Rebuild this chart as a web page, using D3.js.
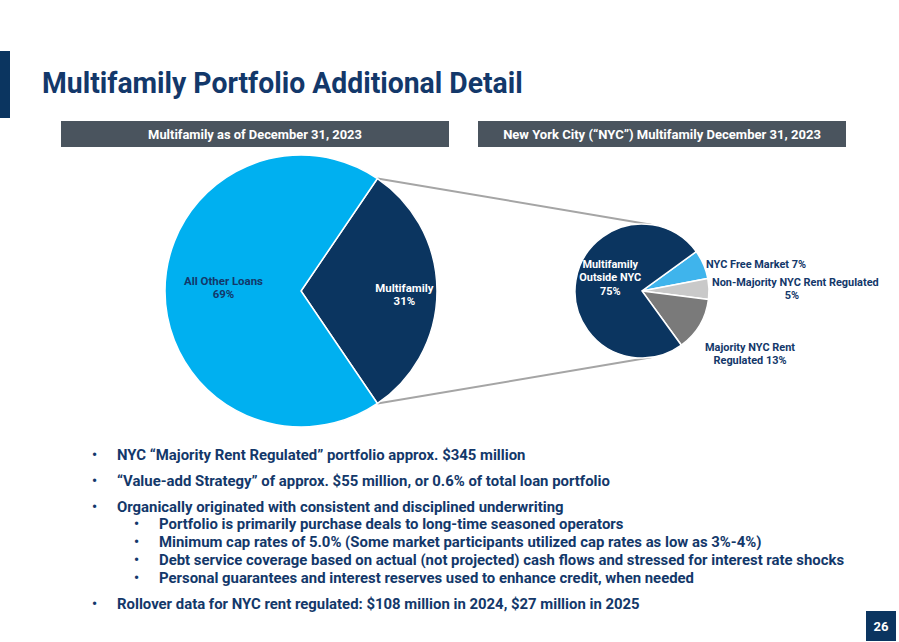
<!DOCTYPE html>
<html>
<head>
<meta charset="utf-8">
<script src="https://cdn.jsdelivr.net/npm/d3@7"></script>
<style>
body { margin: 0; background: #fff; }
text { font-family: Roboto, "Open Sans", sans-serif; font-weight: bold; }
</style>
</head>
<body>
<div id="visual"></div>
<script>
// data
var portfolioLabels = ['Multifamily', 'All Other Loans'];
var portfolioValues = [31, 69];

var nycLabels = ['NYC Free Market', 'Non-Majority NYC Rent Regulated', 'Majority NYC Rent Regulated', 'Multifamily Outside NYC'];
var nycValues = [7, 5, 13, 75];

var headers = ['Multifamily as of December 31, 2023', 'New York City (\u201cNYC\u201d) Multifamily December 31, 2023'];

var bulletText = [
    'NYC \u201cMajority Rent Regulated\u201d portfolio approx. $345 million',
    '\u201cValue-add Strategy\u201d of approx. $55 million, or 0.6% of total loan portfolio',
    'Organically originated with consistent and disciplined underwriting',
    'Portfolio is primarily purchase deals to long-time seasoned operators',
    'Minimum cap rates of 5.0% (Some market participants utilized cap rates as low as 3%-4%)',
    'Debt service coverage based on actual (not projected) cash flows and stressed for interest rate shocks',
    'Personal guarantees and interest reserves used to enhance credit, when needed',
    'Rollover data for NYC rent regulated: $108 million in 2024, $27 million in 2025'
];
var bulletLevel = [0, 0, 0, 1, 1, 1, 1, 0];

var navy = '#0b3560';
var textNavy = '#13386a';

var width = 899, height = 642;

var svg = d3.select('#visual')
    .append('svg')
    .attr('width', width)
    .attr('height', height);

// left accent bar + title
svg.append('rect')
    .attr('x', 0).attr('y', 51)
    .attr('width', 10).attr('height', 67)
    .attr('fill', navy);

var title = svg.append('text')
    .attr('font-size', '29px')
    .attr('fill', textNavy)
    .text('Multifamily Portfolio Additional Detail');
var tScale = 481 / title.node().getComputedTextLength();
title.attr('transform', 'translate(42,93) scale(' + tScale + ',1)');

// header bars
var headerBoxes = [{ x: 61, w: 388 }, { x: 478, w: 368 }];
var headerWidths = [214, 318];
headerBoxes.forEach(function (b, i) {
    svg.append('rect')
        .attr('x', b.x).attr('y', 121)
        .attr('width', b.w).attr('height', 26)
        .attr('fill', '#4a545e');
    var t = svg.append('text')
        .attr('font-size', '13px')
        .attr('fill', '#fff')
        .attr('text-anchor', 'middle')
        .text(headers[i]);
    var s = headerWidths[i] / t.node().getComputedTextLength();
    t.attr('transform', 'translate(' + (b.x + b.w / 2) + ',139) scale(' + s + ',1)');
});

// bullets first so we know the condensed ratio
var bulletY = [460, 486, 512, 529, 547, 565, 583, 609];
var lines = svg.append('g').attr('class', 'bullets');
var probe = lines.append('text').attr('font-size', '15px').text(bulletText[5]);
var sx = 686 / probe.node().getComputedTextLength();
probe.remove();

bulletText.forEach(function (txt, i) {
    var x0 = bulletLevel[i] ? 134 : 92;
    lines.append('text')
        .attr('x', x0).attr('y', bulletY[i])
        .attr('font-size', '14px')
        .attr('fill', textNavy)
        .text('\u2022');
    lines.append('text')
        .attr('font-size', '15px')
        .attr('fill', textNavy)
        .attr('transform', 'translate(' + (x0 + 25) + ',' + bulletY[i] + ') scale(' + sx + ',1)')
        .text(txt);
});

function deg(a) { return a * Math.PI / 180; }
function onCircle(cx, cy, r, a) { return [cx + r * Math.sin(a), cy - r * Math.cos(a)]; }

function label(x, y, rows, colour, anchor, size) {
    var g = svg.append('g').attr('transform', 'translate(' + x + ',' + y + ') scale(' + sx + ',1)');
    rows.forEach(function (r, i) {
        g.append('text')
            .attr('y', i * 13.5)
            .attr('font-size', (size || 11.5) + 'px')
            .attr('fill', colour)
            .attr('text-anchor', anchor || 'middle')
            .text(r);
    });
}

// big pie
var big = { cx: 301, cy: 291, r: 136 };
var bigStart = Math.PI / 2 - Math.PI * portfolioValues[0] / 100;
var bigPie = d3.pie().sort(null).startAngle(bigStart).endAngle(bigStart + 2 * Math.PI)(portfolioValues);
var bigArc = d3.arc().innerRadius(0).outerRadius(big.r);
var bigColours = d3.scaleOrdinal().domain(portfolioLabels).range([navy, '#00b0f0']);

// small pie
var small = { cx: 642, cy: 291, r: 67 };
var smallStart = deg(54);
var smallPie = d3.pie().sort(null).startAngle(smallStart).endAngle(smallStart + 2 * Math.PI)(nycValues);
var smallArc = d3.arc().innerRadius(0).outerRadius(small.r);
var smallColours = d3.scaleOrdinal().domain(nycLabels).range(['#3fb4ec', '#c9c9c9', '#7a7a7a', navy]);

// connector lines
var mf = bigPie[0];
var conn = [
    [onCircle(big.cx, big.cy, big.r, mf.startAngle), onCircle(small.cx, small.cy, small.r, deg(8))],
    [onCircle(big.cx, big.cy, big.r, mf.endAngle), onCircle(small.cx, small.cy, small.r, deg(172))]
];
svg.selectAll('.conn').data(conn).enter().append('line')
    .attr('class', 'conn')
    .attr('x1', function (d) { return d[0][0]; })
    .attr('y1', function (d) { return d[0][1]; })
    .attr('x2', function (d) { return d[1][0]; })
    .attr('y2', function (d) { return d[1][1]; })
    .attr('stroke', '#a5a5a5')
    .attr('stroke-width', 2);

svg.append('g')
    .attr('transform', 'translate(' + big.cx + ',' + big.cy + ')')
    .selectAll('path').data(bigPie).enter().append('path')
    .attr('d', bigArc)
    .attr('fill', function (d, i) { return bigColours(portfolioLabels[i]); })
    .attr('stroke', '#fff')
    .attr('stroke-width', 1.5);

svg.append('g')
    .attr('transform', 'translate(' + small.cx + ',' + small.cy + ')')
    .selectAll('path').data(smallPie).enter().append('path')
    .attr('d', smallArc)
    .attr('fill', function (d, i) { return smallColours(nycLabels[i]); })
    .attr('stroke', '#fff')
    .attr('stroke-width', 1.5);

// labels inside big pie
var mfLabelArc = d3.arc().innerRadius(big.r * 0.76).outerRadius(big.r * 0.76);
var otherLabelArc = d3.arc().innerRadius(big.r * 0.57).outerRadius(big.r * 0.57);
var c0 = mfLabelArc.centroid(bigPie[0]);
var c1 = otherLabelArc.centroid(bigPie[1]);
label(big.cx + c0[0], big.cy + c0[1] + 1, [portfolioLabels[0], portfolioValues[0] + '%'], '#fff');
label(big.cx + c1[0], big.cy + c1[1] - 6, [portfolioLabels[1], portfolioValues[1] + '%'], textNavy);

// labels for small pie
var smallLabelArc = d3.arc().innerRadius(small.r * 0.48).outerRadius(small.r * 0.48);
var c3 = smallLabelArc.centroid(smallPie[3]);
label(small.cx + c3[0], small.cy + c3[1] - 18, ['Multifamily', 'Outside NYC', nycValues[3] + '%'], '#fff', 'middle', 11);
label(706, 268, [nycLabels[0] + ' ' + nycValues[0] + '%'], textNavy, 'start', 11);
label(712, 286, [nycLabels[1]], textNavy, 'start', 11);
label(792, 299, [nycValues[1] + '%'], textNavy, 'middle', 11);
label(750, 351, ['Majority NYC Rent', 'Regulated ' + nycValues[2] + '%'], textNavy, 'middle', 11);

// page number
svg.append('rect')
    .attr('x', 866).attr('y', 611)
    .attr('width', 30).attr('height', 30)
    .attr('fill', navy);
svg.append('text')
    .attr('x', 881).attr('y', 631)
    .attr('text-anchor', 'middle')
    .attr('font-size', '13px')
    .attr('fill', '#fff')
    .text('26');
</script>
</body>
</html>
